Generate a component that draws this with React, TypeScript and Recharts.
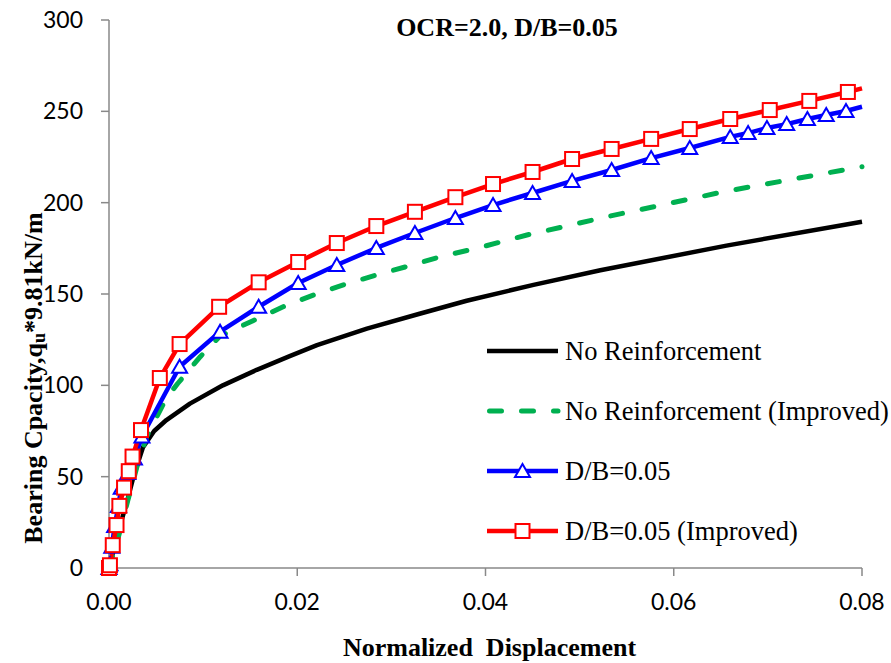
import { Legend, Line, LineChart, XAxis, YAxis } from "recharts";

// normalized displacement / bearing capacity
const noReinfX = [0, 0.001, 0.002, 0.0026, 0.0036, 0.0048, 0.0061, 0.0086, 0.0121, 0.0157, 0.0192, 0.0221, 0.0274, 0.033, 0.038, 0.0451, 0.0522, 0.0656, 0.08];
const noReinfY = [0, 20, 38, 50, 66, 75, 81, 90, 100, 108.5, 116, 122, 131, 139.2, 146.3, 155, 163, 176.5, 189.6];

const noReinfImpX = [0, 0.001, 0.002, 0.003, 0.004, 0.0061, 0.0073, 0.0097, 0.0118, 0.0153, 0.0185, 0.0217, 0.0249, 0.0284, 0.0323, 0.0352, 0.0398, 0.0444, 0.0486, 0.0529, 0.0656, 0.08];
const noReinfImpY = [0, 17, 37, 56, 72, 93, 101, 115.7, 127, 135.4, 143, 149.4, 155, 160.4, 166, 170.4, 176, 182.3, 187.2, 192.3, 206.3, 219.7];

const dbX = [0, 0.0001, 0.0003, 0.0006, 0.001, 0.0013, 0.002, 0.0027, 0.0035, 0.0075, 0.0118, 0.0159, 0.0201, 0.0242, 0.0284, 0.0325, 0.0368, 0.0408, 0.045, 0.0492, 0.0534, 0.0576, 0.0617, 0.066, 0.0679, 0.0699, 0.072, 0.0742, 0.0762, 0.0783, 0.08];
const dbY = [0, 2, 11.7, 23, 34, 44, 52, 60, 72, 110.2, 129.4, 143, 156, 165.9, 175.2, 183.4, 191.6, 198.7, 205.3, 211.9, 217.9, 224.4, 229.9, 236, 238.1, 240.9, 243, 245.8, 248, 250.2, 252.5];

const dbImpX = [0, 0.0001, 0.0004, 0.0008, 0.0011, 0.0016, 0.0021, 0.0025, 0.0034, 0.0054, 0.0075, 0.0117, 0.0159, 0.0201, 0.0242, 0.0284, 0.0325, 0.0368, 0.0408, 0.045, 0.0492, 0.0534, 0.0576, 0.0617, 0.066, 0.0702, 0.0744, 0.0785, 0.08];
const dbImpY = [0, 1.5, 12.5, 23.5, 34, 44, 53, 61, 75.5, 104, 122.6, 143, 156.4, 167.5, 177.9, 187.2, 195, 203, 210.2, 216.8, 223.9, 229.4, 234.9, 240.3, 245.8, 250.7, 255.7, 260.6, 262.6];

const xTicks = [0, 0.02, 0.04, 0.06, 0.08];
const yTicks = [0, 50, 100, 150, 200, 250, 300];

const toPoints = (xs: number[], ys: number[]) => xs.map((x, i) => ({ x, y: ys[i] }));

const serif = "'Liberation Serif', 'Times New Roman', serif";
const axisColor = "#898989";

const triangle = (cx: number, cy: number, key?: string | number) => (
    <path key={key} d={`M${cx},${cy - 7} L${cx + 7.5},${cy + 6} L${cx - 7.5},${cy + 6} Z`} fill="#fff" stroke="#0000ff" strokeWidth={2} />
);
const square = (cx: number, cy: number, key?: string | number) => (
    <rect key={key} x={cx - 7} y={cy - 7} width={14} height={14} fill="#fff" stroke="#ff0000" strokeWidth={2} />
);

// last point only carries the line to the axis edge, no marker there
const markerDot = (draw: typeof triangle, count: number) => (props: any) => {
    const { cx, cy, index } = props;
    if (index === count - 1 || cx == null) return <g key={`d${index}`} />;
    return draw(cx, cy, `d${index}`);
};

const series = [
    { name: "No Reinforcement", data: toPoints(noReinfX, noReinfY), color: "#000000", dash: undefined, marker: null },
    { name: "No Reinforcement (Improved)", data: toPoints(noReinfImpX, noReinfImpY), color: "#00b050", dash: "12 20", marker: null },
    { name: "D/B=0.05", data: toPoints(dbX, dbY), color: "#0000ff", dash: undefined, marker: triangle },
    { name: "D/B=0.05 (Improved)", data: toPoints(dbImpX, dbImpY), color: "#ff0000", dash: undefined, marker: square },
];

const renderLegend = () => (
    <div>
        {series.map((s) => (
            <div key={s.name} style={{ height: 60, display: "flex", alignItems: "center" }}>
                <svg width={78} height={20}>
                    <line
                        x1={s.dash ? 2.5 : 0}
                        y1={10}
                        x2={71}
                        y2={10}
                        stroke={s.color}
                        strokeWidth={s.dash ? 5 : 4.5}
                        strokeDasharray={s.dash}
                        strokeLinecap={s.dash ? "round" : "butt"}
                    />
                    {s.marker ? s.marker(35.5, 10) : null}
                </svg>
                <span style={{ fontFamily: serif, fontSize: 26.5, color: "#000", whiteSpace: "nowrap" }}>{s.name}</span>
            </div>
        ))}
    </div>
);

const YTitle = () => (
    <text
        x={33}
        y={378}
        transform="rotate(-90, 33, 378)"
        textAnchor="middle"
        dominantBaseline="central"
        fontFamily={serif}
        fontWeight="bold"
        fontSize={26}
        fill="#000"
    >
        Bearing Cpacity,q
        <tspan fontSize={18} dy={6}>u</tspan>
        <tspan dy={-6}>*9.81kN/m</tspan>
    </text>
);

const XTitle = (props: any) => {
    const vb = props.viewBox;
    return (
        <text
            x={vb.x + vb.width / 2 + 4}
            y={656}
            textAnchor="middle"
            fontFamily={serif}
            fontWeight="bold"
            fontSize={26}
            fill="#000"
            style={{ whiteSpace: "pre" }}
        >
            Normalized  Displacement
        </text>
    );
};

const App = () => {
    return (
        <div style={{ position: "absolute", left: 0, top: 0, width: 891, height: 663, background: "#fff" }}>
            <div
                style={{
                    position: "absolute",
                    left: 307,
                    top: 13,
                    width: 400,
                    textAlign: "center",
                    fontFamily: serif,
                    fontWeight: "bold",
                    fontSize: 26,
                    color: "#000",
                    zIndex: 2,
                }}
            >
                OCR=2.0, D/B=0.05
            </div>
            <LineChart width={891} height={663} margin={{ top: 20, right: 29, left: 0, bottom: 0 }}>
                <XAxis
                    type="number"
                    dataKey="x"
                    domain={[0, 0.08]}
                    ticks={xTicks}
                    tickFormatter={(v: number) => v.toFixed(2)}
                    height={95}
                    tickSize={8}
                    tickMargin={18}
                    stroke={axisColor}
                    strokeWidth={1.5}
                    tick={{ fontFamily: "Lato", fontSize: 23, fill: "#000" }}
                    label={<XTitle />}
                />
                <YAxis
                    type="number"
                    domain={[0, 300]}
                    ticks={yTicks}
                    width={109}
                    tickSize={8}
                    tickMargin={18}
                    stroke={axisColor}
                    strokeWidth={1.5}
                    tick={{ fontFamily: "Lato", fontSize: 23, fill: "#000" }}
                    label={<YTitle />}
                />
                <Legend
                    layout="vertical"
                    align="center"
                    verticalAlign="middle"
                    content={renderLegend}
                    wrapperStyle={{ left: 487, top: 321, width: 404 }}
                />
                {series.map((s) => (
                    <Line
                        key={s.name}
                        name={s.name}
                        data={s.data}
                        dataKey="y"
                        type="linear"
                        stroke={s.color}
                        strokeWidth={s.dash ? 5 : 4.5}
                        strokeDasharray={s.dash}
                        strokeLinecap={s.dash ? "round" : "butt"}
                        strokeLinejoin="round"
                        dot={s.marker ? markerDot(s.marker, s.data.length) : false}
                        activeDot={false}
                        isAnimationActive={false}
                    />
                ))}
            </LineChart>
        </div>
    );
};

export default App;
